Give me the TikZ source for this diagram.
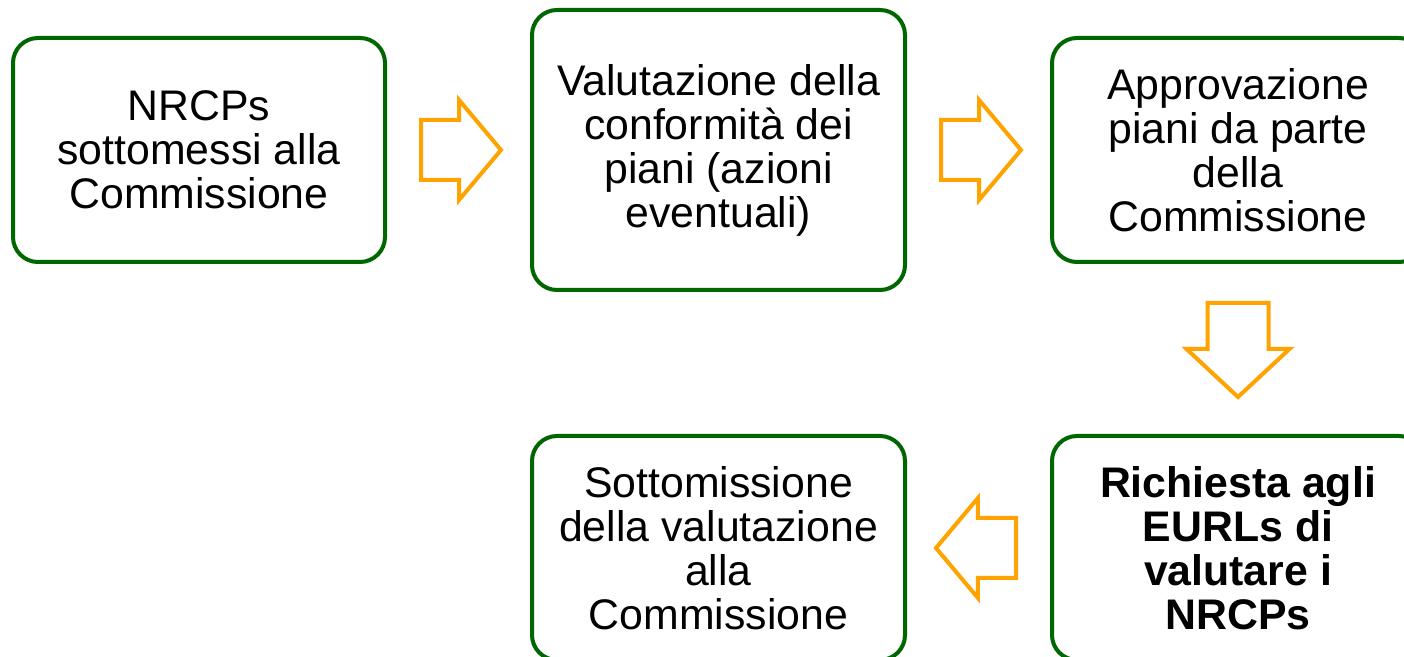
\documentclass[tikz,border=0pt]{standalone}
\usepackage{fontspec}
\setmainfont{Liberation Sans}
\usetikzlibrary{calc,shapes.arrows}
\definecolor{boxgreen}{RGB}{0,102,0}
\definecolor{arroworange}{RGB}{255,163,0}
\tikzset{
  stepbox/.style={draw=boxgreen, line width=2pt, rounded corners=12.5pt,
    minimum width=186pt, minimum height=112pt, inner sep=0pt,
    align=center, font=\fontsize{21.4}{22}\selectfont},
  flowarrow/.style={single arrow, draw=arroworange, line width=2pt,
    minimum height=40pt, minimum width=48pt, inner xsep=0pt, inner ysep=14pt,
    single arrow head extend=10pt, single arrow tip angle=100, anchor=tail},
}

\begin{document}
\begin{tikzpicture}[x=0.5pt, y=-0.5pt]
  \clip (0,0) rectangle (1404,657);
  \fill[white] (0,0) rectangle (1404,657);

  %%%%% boxes %%%%%
  \node[stepbox] (submit) at (199,150) {NRCPs\\sottomessi alla\\Commissione};
  \node[stepbox, minimum width=186.5pt, minimum height=140pt] (check) at (718.5,150)
    {Valutazione della\\conformità dei\\piani (azioni\\eventuali)};
  \node[stepbox] (approve) at (1238,150) {Approvazione\\piani da parte\\della\\Commissione};
  \node[stepbox, font=\fontsize{21.4}{22}\selectfont\bfseries] (request) at (1238,548)
    {Richiesta agli\\EURLs di\\valutare i\\NRCPs};
  \node[stepbox, minimum width=186.5pt] (report) at (718.5,548)
    {Sottomissione\\della valutazione\\alla\\Commissione};

  %%%%% arrows %%%%%
  \node[flowarrow] (a1) at ($(submit.east)+(32,0)$) {};
  \node[flowarrow] (a2) at ($(check.east |- submit.east)+(32,0)$) {};
  \node[flowarrow, shape border rotate=270, inner xsep=14.25pt, inner ysep=0pt,
    minimum height=47pt, minimum width=49.5pt, single arrow head extend=10.5pt,
    single arrow tip angle=94] (a3) at ($(approve.south)+(0,37)$) {};
  \node[flowarrow, shape border rotate=180] (a4) at ($(request.west)+(-32,0)$) {};
\end{tikzpicture}
\end{document}
